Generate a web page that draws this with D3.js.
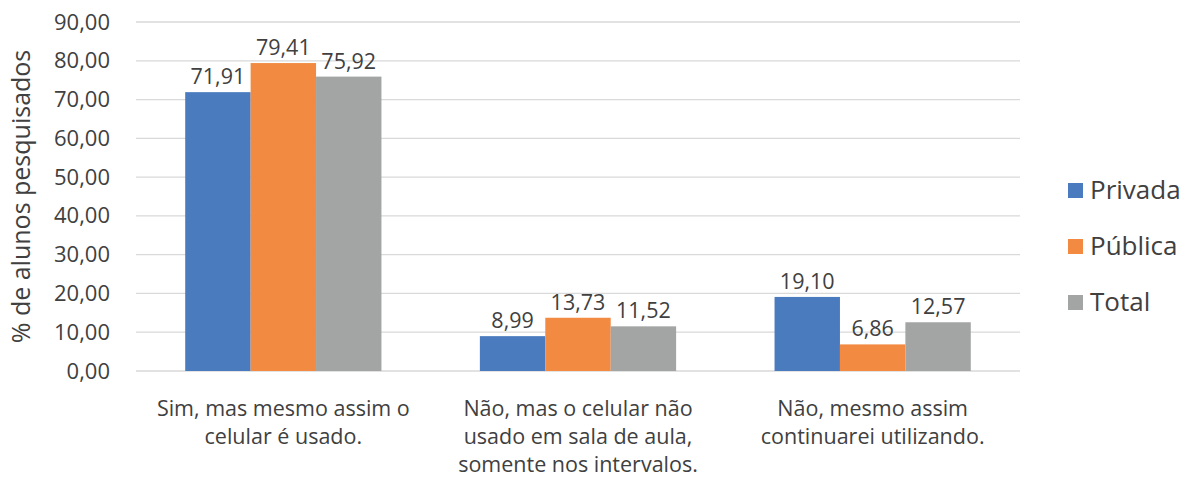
<!DOCTYPE html>
<html>
<head>
<meta charset="utf-8">
<script src="https://cdn.jsdelivr.net/npm/d3@7"></script>
<style>
  body { margin: 0; background: #fff; }
  text { font-family: "Open Sans", "Noto Sans", sans-serif; fill: #404040; }
</style>
</head>
<body>
<svg width="1192" height="479"></svg>
<script>
const categories = [
  ["Sim, mas mesmo assim o", "celular é usado."],
  ["Não, mas o celular não", "usado em sala de aula,", "somente nos intervalos."],
  ["Não, mesmo assim", "continuarei utilizando."]
];
const seriesNames = ["Privada", "Pública", "Total"];
const privada = [71.91, 8.99, 19.10];
const publica = [79.41, 13.73, 6.86];
const total = [75.92, 11.52, 12.57];
const yTicks = [0, 10, 20, 30, 40, 50, 60, 70, 80, 90];
const colors = ["#4a7bbf", "#f28a41", "#a3a5a5"];

const svg = d3.select("svg"),
      margin = {top: 22, right: 172, bottom: 108, left: 136},
      width = +svg.attr("width") - margin.left - margin.right,
      height = +svg.attr("height") - margin.top - margin.bottom;

const g = svg.append("g").attr("transform", `translate(${margin.left},${margin.top})`);

const fmt = v => v.toFixed(2).replace(".", ",");
const values = [privada, publica, total];

const x0 = d3.scaleBand().domain(d3.range(categories.length)).range([0, width]);
const x1 = d3.scaleBand().domain(d3.range(seriesNames.length))
  .range([x0.bandwidth() * 0.167, x0.bandwidth() * 0.833]);
const y = d3.scaleLinear().domain([0, 90]).range([height, 0]);

// gridlines
g.append("g")
  .selectAll("line")
  .data(yTicks)
  .join("line")
    .attr("x1", 0).attr("x2", width)
    .attr("y1", d => y(d)).attr("y2", d => y(d))
    .attr("stroke", "#d9d9d9").attr("stroke-width", 1.3);

// y axis labels
const yAxis = g.append("g")
  .call(d3.axisLeft(y).tickValues(yTicks).tickFormat(fmt).tickSize(0).tickPadding(26));
yAxis.select(".domain").remove();
yAxis.selectAll("text").attr("font-size", 22).attr("fill", "#404040")
  .style("font-family", '"Open Sans", sans-serif');

// bars
const groups = g.selectAll(".grp")
  .data(categories.map((c, i) => i))
  .join("g")
    .attr("class", "grp")
    .attr("transform", i => `translate(${x0(i)},0)`);

groups.selectAll("rect")
  .data(i => values.map((s, k) => ({k, v: s[i]})))
  .join("rect")
    .attr("x", d => x1(d.k))
    .attr("y", d => y(d.v))
    .attr("width", x1.bandwidth())
    .attr("height", d => y(0) - y(d.v))
    .attr("fill", d => colors[d.k]);

groups.selectAll(".lbl")
  .data(i => values.map((s, k) => ({k, v: s[i]})))
  .join("text")
    .attr("class", "lbl")
    .attr("x", d => x1(d.k) + x1.bandwidth() / 2)
    .attr("y", d => y(d.v) - 8)
    .attr("text-anchor", "middle")
    .attr("font-size", 21.5)
    .text(d => fmt(d.v));

// category labels
const catText = g.append("g").selectAll("text")
  .data(categories)
  .join("text")
    .attr("x", (d, i) => x0(i) + x0.bandwidth() / 2)
    .attr("y", height + 45)
    .attr("text-anchor", "middle")
    .attr("font-size", 21.5);
catText.selectAll("tspan")
  .data(d => d)
  .join("tspan")
    .attr("x", function() { return this.parentNode.getAttribute("x"); })
    .attr("dy", (d, i) => i === 0 ? 0 : 28)
    .text(d => d);

// y axis title
svg.append("text")
  .attr("transform", `translate(30,${margin.top + height / 2}) rotate(-90)`)
  .attr("text-anchor", "middle")
  .attr("font-size", 25)
  .text("% de alunos pesquisados");

// legend
const legend = svg.selectAll(".legend")
  .data(seriesNames)
  .join("g")
    .attr("class", "legend")
    .attr("transform", (d, i) => `translate(1068,${190 + i * 56})`);

legend.append("rect")
  .attr("x", 0).attr("y", -7)
  .attr("width", 15).attr("height", 15)
  .attr("fill", (d, i) => colors[i]);

legend.append("text")
  .attr("x", 22)
  .attr("y", 0)
  .attr("dy", "0.35em")
  .attr("font-size", 26)
  .text(d => d);
</script>
</body>
</html>
